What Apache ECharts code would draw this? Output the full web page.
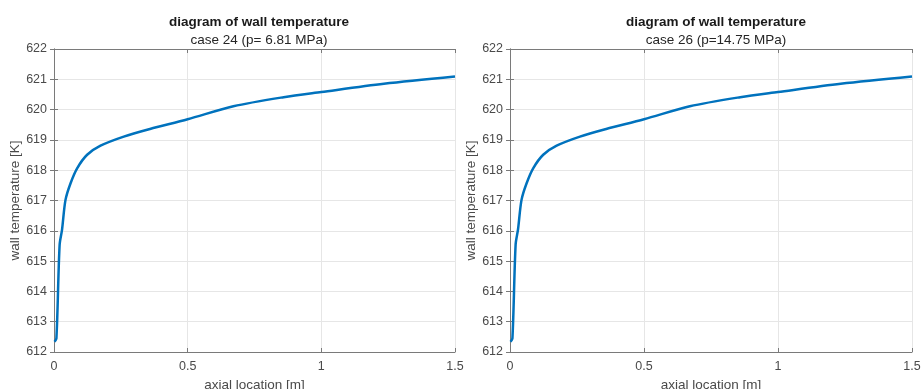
<!DOCTYPE html>
<html>
<head>
<meta charset="utf-8">
<script src="https://cdn.jsdelivr.net/npm/echarts@6/dist/echarts.min.js"></script>
<style>
  html, body { margin: 0; padding: 0; background: #fff; }
  #chart { width: 922px; height: 389px; }
</style>
</head>
<body>
<div id="chart"></div>
<script>
// axial location [m]
const axialPos = [0.002, 0.009, 0.021, 0.03, 0.043, 0.062, 0.087, 0.124, 0.174, 0.261, 0.359, 0.5, 0.671, 0.859, 1.0, 1.234, 1.5];
// wall temperature [K]
const case24Temp = [612.34, 612.45, 615.53, 616.03, 617.02, 617.57, 618.07, 618.51, 618.81, 619.11, 619.36, 619.68, 620.11, 620.41, 620.58, 620.85, 621.09];
const case26Temp = [612.34, 612.45, 615.55, 616.05, 617.02, 617.57, 618.07, 618.51, 618.81, 619.11, 619.36, 619.68, 620.11, 620.41, 620.58, 620.85, 621.09];
const panelTitles = ["case 24 (p= 6.81 MPa)", "case 26 (p=14.75 MPa)"];

const chart = echarts.init(document.getElementById("chart"));
const font = "'Liberation Sans', Arial, sans-serif";
const axisGray = "#7a7a7a";
const labelGray = "#4a4a4a";

const grids = [
  { left: 54, right: 467, top: 49, bottom: 37, outerBoundsMode: "none", containLabel: false },
  { left: 510, right: 10, top: 49, bottom: 37, outerBoundsMode: "none", containLabel: false }
];
const centers = [254, 711];
const yNameGaps = [32, 30];

function pairs(xs, ys) {
  return xs.map((x, i) => [x, ys[i]]);
}

const xAxes = [], yAxes = [], titles = [], series = [];
grids.forEach((g, i) => {
  // bottom axis with labels
  xAxes.push({
    gridIndex: i, type: "value", min: 0, max: 1.5, interval: 0.5,
    name: "axial location [m]", nameLocation: "middle", nameGap: 25,
    nameTextStyle: { color: labelGray, fontSize: 13.5, fontFamily: font },
    axisLine: { show: true, lineStyle: { color: axisGray, width: 1 } },
    axisTick: { show: true, inside: true, length: 4, lineStyle: { color: axisGray } },
    axisLabel: { color: labelGray, fontSize: 12.5, fontFamily: font, margin: 8,
      formatter: v => String(v) },
    splitLine: { show: true, lineStyle: { color: "#e6e6e6", width: 1 } }
  });
  // top box edge
  xAxes.push({
    gridIndex: i, type: "value", position: "top", min: 0, max: 1.5, interval: 0.5,
    axisLine: { show: true, lineStyle: { color: axisGray, width: 1 } },
    axisTick: { show: true, inside: true, length: 4, lineStyle: { color: axisGray } },
    axisLabel: { show: false }, splitLine: { show: false }
  });
  yAxes.push({
    gridIndex: i, type: "value", min: 612, max: 622, interval: 1,
    name: "wall temperature [K]", nameLocation: "middle", nameGap: yNameGaps[i],
    nameTextStyle: { color: labelGray, fontSize: 13.5, fontFamily: font },
    axisLine: { show: true, lineStyle: { color: axisGray, width: 1 } },
    axisTick: { show: true, inside: true, length: 4, lineStyle: { color: axisGray } },
    axisLabel: { color: labelGray, fontSize: 12.5, fontFamily: font, margin: 7 },
    splitLine: { show: true, lineStyle: { color: "#e6e6e6", width: 1 } }
  });
  // right box edge
  yAxes.push({
    gridIndex: i, type: "value", position: "right", min: 612, max: 622, interval: 1,
    axisLine: { show: true, lineStyle: { color: axisGray, width: 1 } },
    axisTick: { show: true, inside: true, length: 4, lineStyle: { color: axisGray } },
    axisLabel: { show: false }, splitLine: { show: false }
  });
  titles.push({
    text: "diagram of wall temperature",
    subtext: panelTitles[i],
    left: centers[i], top: 10, textAlign: "center", itemGap: 4,
    textStyle: { fontSize: 13.5, fontWeight: "bold", color: "#1a1a1a", fontFamily: font },
    subtextStyle: { fontSize: 13.5, color: "#262626", fontFamily: font }
  });
  series.push({
    type: "line",
    xAxisIndex: i * 2, yAxisIndex: i * 2,
    data: pairs(axialPos, i === 0 ? case24Temp : case26Temp),
    smooth: 0.3, showSymbol: false,
    lineStyle: { color: "#0072BD", width: 2.5 },
    itemStyle: { color: "#0072BD" }
  });
});

chart.setOption({
  animation: false,
  title: titles,
  grid: grids,
  xAxis: xAxes,
  yAxis: yAxes,
  series: series
});
</script>
</body>
</html>
